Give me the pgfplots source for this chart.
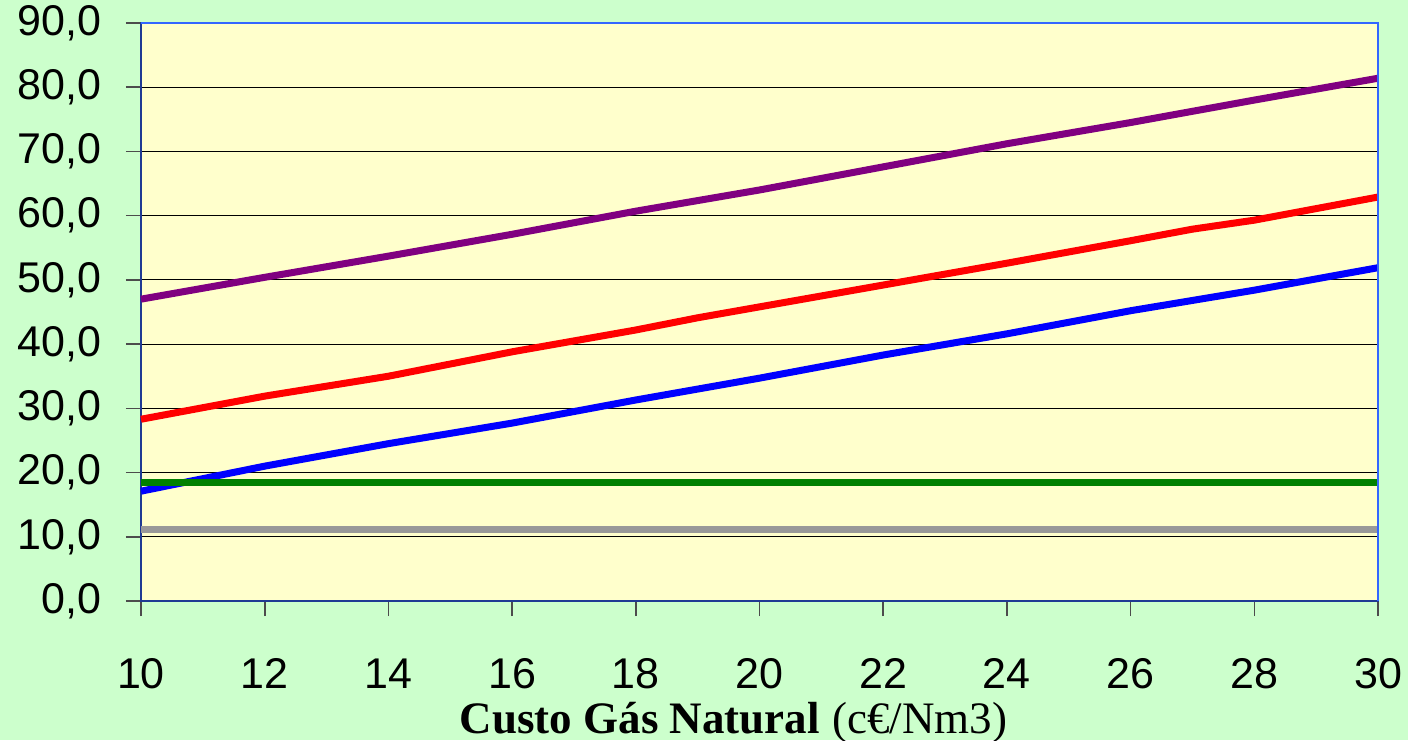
\documentclass[border=0pt]{standalone}
\usepackage{pgfplots}
\pgfplotsset{compat=1.18}
\usepackage{fontspec}
\setmainfont{Liberation Sans}
\newfontfamily\timesf{Liberation Serif}
\definecolor{bggreen}{HTML}{CCFFCC}
\definecolor{plotyellow}{HTML}{FFFFCC}
\definecolor{axnavy}{HTML}{1F3A93}
\definecolor{axblue}{HTML}{3366FF}
\definecolor{lpurple}{HTML}{800080}
\definecolor{lgreen}{HTML}{008000}
\definecolor{lgray}{HTML}{999999}
\begin{document}
\begin{tikzpicture}
\fill[bggreen] (-70.5pt,-69.5pt) rectangle (633.5pt,300.5pt);
\begin{axis}[
    scale only axis,
    width=618.5pt, height=289pt,
    xmin=10, xmax=30, ymin=0, ymax=90,
    xtick={10,12,...,30}, ytick={0,10,...,90},
    axis background/.style={fill=plotyellow},
    axis line style={axnavy, line width=1pt},
    tick align=outside, major tick length=7.5pt,
    tick style={black!70, line width=0.8pt},
    xtick pos=bottom, ytick pos=left,
    ymajorgrids, grid style={black, line width=0.6pt},
    tick label style={font=\fontsize{21.5}{24}\selectfont},
    typeset ticklabels with strut,
    /pgf/number format/assume math mode=true,
    yticklabel={\pgfmathprintnumber[fixed, fixed zerofill, precision=1, use comma]{\tick}},
    yticklabel style={xshift=-9pt},
    xticklabel style={yshift=-16pt},
    xlabel={{\timesf\bfseries Custo Gás Natural} {\timesf(c€/Nm3)}},
    xlabel style={font=\fontsize{22.5}{26}\selectfont, at={(axis description cs:0.479,0)}, anchor=base, yshift=-66pt},
    clip=false,
]
\addplot[lpurple, line width=3.5pt] coordinates {
 (10,47.0) (12,50.4) (14,53.7) (16,57.1) (18,60.7) (20,64.0) (22,67.6) (24,71.2) (26,74.5) (28,78.0) (30,81.4)};
\addplot[red, line width=3.5pt] coordinates {
 (10,28.3) (12,31.9) (14,35.0) (16,38.8) (18,42.2) (19,44.1) (20,45.8) (22,49.2) (24,52.6) (26,56.1) (27,57.9) (28,59.3) (30,62.9)};
\addplot[blue, line width=3.5pt] coordinates {
 (10,17.1) (12,21.0) (14,24.5) (16,27.7) (18,31.3) (20,34.7) (22,38.3) (24,41.6) (26,45.2) (28,48.4) (30,51.9)};
\addplot[lgreen, line width=3.5pt] coordinates {(10,18.4) (30,18.4)};
\addplot[lgray, line width=3.5pt] coordinates {(10,11.1) (30,11.1)};
\draw[axblue, line width=1pt] (rel axis cs:0,1) -- (rel axis cs:1,1) -- (rel axis cs:1,0);
\end{axis}
\pgfresetboundingbox
\useasboundingbox (-70.5pt,-69.5pt) rectangle (633.5pt,300.5pt);
\end{tikzpicture}
\end{document}
